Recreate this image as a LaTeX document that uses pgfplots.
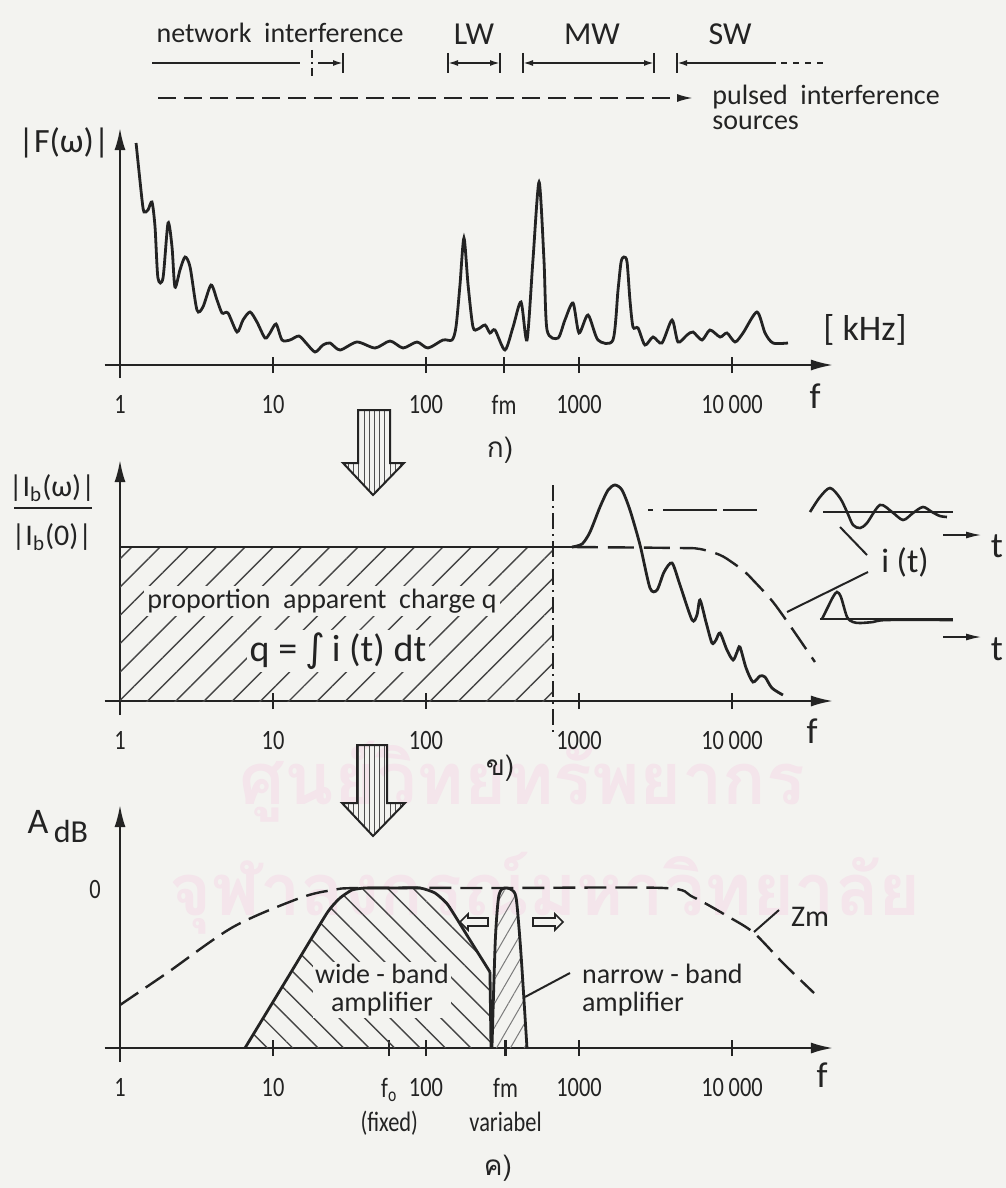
\documentclass[border=0pt]{standalone}
\usepackage{fontspec}
\usepackage{pgfplots}
\pgfplotsset{compat=1.18}
\usetikzlibrary{arrows.meta,patterns.meta,shapes.arrows}
\setmainfont{Carlito}
\newfontfamily\tickfont{Carlito}[FakeStretch=0.8]
\newfontfamily\djv{DejaVu Sans}
\newfontfamily\thaifont[Script=Thai]{Loma}
\definecolor{bgc}{RGB}{243,243,240}
\definecolor{ink}{RGB}{35,35,35}
\definecolor{wm}{RGB}{244,229,235}
\newcommand{\fs}[1]{\fontsize{#1}{#1}\selectfont}
\pgfplotsset{
  panel/.style={
    axis lines=middle,
    x=76.5pt, y=0.5pt,
    xmin=-0.1, xmax=4.66,
    enlargelimits=false,
    clip=false,
    hide obscured x ticks=false,
    axis line style={line width=1.1pt, ink},
    x axis line style={-{Latex[length=11pt,width=5.5pt]}},
    y axis line style={-{Latex[length=11pt,width=5.5pt]}},
    ytick=\empty,
    tick style={line width=1.1pt, ink},
    major tick length=8pt,
    tick align=center,
    xticklabel style={font=\tickfont\fs{14}, text=ink, inner sep=0pt, yshift=-11pt, align=center},
    anchor=origin,
  }
}
\begin{document}
\begin{tikzpicture}
\useasboundingbox (0,0) rectangle (503pt,-594pt);
\fill[bgc] (0,0) rectangle (503pt,-594pt);
% watermark
\begin{scope}[x=0.5pt,y=-0.5pt]
\node[text=wm, font=\thaifont\bfseries\fs{36}] at (522,782) {ศูนย์วิทยทรัพยากร};
\node[text=wm, font=\thaifont\bfseries\fs{36}] at (545,893) {จุฬาลงกรณ์มหาวิทยาลัย};
\end{scope}

% ---------------- top panel ----------------
\begin{axis}[panel, at={(60pt,-182.5pt)}, ymin=-13, ymax=237,
  xtick={0,1,2,2.51,3,4}, xticklabels={1,10,100,fm,1000,10\,000}]
\addplot[ink, line width=1.4pt, smooth, tension=0.45] coordinates {
(0.105,222)(0.144,165)(0.157,153)(0.183,155)(0.209,163)(0.229,138)(0.248,87)
(0.281,87)(0.314,142)(0.340,118)(0.359,78)(0.392,95)(0.425,108)(0.458,98)
(0.503,55)(0.542,58)(0.595,80)(0.634,65)(0.667,52)(0.706,52)(0.765,33)
(0.804,45)(0.850,53)(0.895,43)(0.948,27)(0.980,32)(1.020,41)(1.059,25)
(1.111,25)(1.170,29)(1.222,21)(1.275,13)(1.327,20)(1.373,22)(1.438,15)
(1.549,23)(1.667,17)(1.765,24)(1.850,17)(1.941,23)(2.013,17)(2.111,25)
(2.170,25)(2.196,38)(2.222,80)(2.248,127)(2.275,80)(2.307,38)(2.340,36)
(2.386,40)(2.418,32)(2.451,35)(2.516,15)(2.569,38)(2.621,63)(2.660,25)
(2.699,105)(2.739,183)(2.771,105)(2.791,35)(2.863,27)(2.908,45)(2.961,62)
(3.000,32)(3.059,50)(3.124,25)(3.222,25)(3.255,75)(3.275,103)(3.294,108)
(3.314,103)(3.333,65)(3.353,38)(3.386,37)(3.431,20)(3.484,28)(3.542,22)
(3.608,45)(3.647,23)(3.706,30)(3.745,33)(3.804,25)(3.856,35)(3.922,28)
(3.967,32)(4.020,23)(4.072,32)(4.163,53)(4.216,32)(4.268,22)(4.366,22)};
\end{axis}

% ---------------- middle panel ----------------
\begin{axis}[panel, at={(60pt,-350.5pt)}, ymin=-14, ymax=241,
  xtick={0,1,2,3,4}, xticklabels={1,10,100,1000,10\,000}]
\addplot[draw=none, pattern={Lines[angle=45,distance=10pt,line width=0.7pt]}, pattern color=ink!85]
  coordinates {(0,154)(2.830,154)} \closedcycle;
\addplot[ink, line width=1.4pt] coordinates {(0,154)(2.954,154)};
\addplot[ink, line width=1.4pt, smooth, tension=0.45] coordinates {
(2.954,154)(3.020,157)(3.072,169)(3.137,194)(3.190,211)(3.235,216)(3.281,211)
(3.333,191)(3.399,156)(3.464,113)(3.510,111)(3.556,129)(3.608,138)(3.660,116)
(3.739,81)(3.771,86)(3.791,101)(3.830,79)(3.869,58)(3.895,61)(3.922,68)
(3.967,51)(4.007,41)(4.033,49)(4.052,54)(4.092,33)(4.137,19)(4.183,25)
(4.216,24)(4.261,13)(4.333,6)};
\addplot[ink, line width=1.2pt, dash pattern=on 13pt off 5pt, smooth] coordinates {
(2.954,154)(3.660,153)(3.791,152)(3.922,146)(4.007,138)(4.085,129)(4.137,121)
(4.268,99)(4.399,71)(4.444,61)(4.542,39)};
\draw[ink, line width=0.9pt, dash pattern=on 2.5pt off 5pt on 27pt off 3pt on 20pt off 10pt]
  (axis cs:3.451,191) -- (axis cs:4.163,191);
\draw[ink, line width=0.9pt, dash pattern=on 8pt off 2.5pt on 1pt off 2.5pt]
  (axis cs:2.830,216) -- (axis cs:2.830,-34);
% pulse sketches i(t)
\addplot[ink, line width=0.8pt] coordinates {(4.595,189)(5.444,189)};
\addplot[ink, line width=1.3pt, smooth] coordinates {
(4.510,189)(4.575,204)(4.641,213)(4.706,203)(4.752,189)(4.791,176)(4.837,173)
(4.882,178)(4.967,196)(5.046,189)(5.118,181)(5.183,188)(5.248,194)(5.307,189)
(5.359,185)(5.405,184)};
\addplot[ink, line width=0.8pt] coordinates {(4.575,82)(5.444,82)};
\addplot[ink, line width=1.3pt, smooth] coordinates {
(4.588,82)(4.627,94)(4.660,104)(4.686,109)(4.712,104)(4.752,84)(4.791,79)
(4.837,78)(4.922,79)(5.013,81)(5.444,81)};
\end{axis}

% ---------------- bottom panel ----------------
\begin{axis}[panel, at={(60pt,-524pt)}, ymin=-14, ymax=243,
  xtick={0,1,1.76,2,2.52,3,4},
  xticklabels={1,10,{f\textsubscript{o}\\[3pt](fixed)},100,{fm\\[3pt]variabel},1000,10\,000}]
\addplot[draw=none, pattern={Lines[angle=-45,distance=9pt,line width=0.7pt]}, pattern color=ink!85]
  coordinates {(0.817,0)(1.085,67.5)(1.353,135)(1.438,150)(1.516,158)(1.601,160)
  (1.961,160)(2.059,155)(2.144,143)(2.281,109.5)(2.418,76)(2.425,0)} \closedcycle;
\addplot[draw=none, pattern={Lines[angle=60,distance=6pt,line width=0.5pt]}, pattern color=ink!60]
  coordinates {(2.431,0)(2.451,100)(2.464,135)(2.477,153)(2.497,159)(2.529,160)
  (2.562,158)(2.588,151)(2.608,120)(2.627,80)(2.660,0)} \closedcycle;
\addplot[ink, line width=1.2pt, dash pattern=on 11pt off 4.5pt, smooth] coordinates {
(0,43)(0.307,75)(0.739,121)(1.176,150)(1.392,158)(1.569,160)(2.5,160)(3.556,160)
(3.745,151)(3.980,131)(4.144,115)(4.333,85)(4.536,55)};
\addplot[ink, line width=1.4pt, smooth, tension=0.3] coordinates {
(0.817,0)(1.085,67.5)(1.353,135)(1.438,150)(1.516,158)(1.601,160)(1.78,160)
(1.961,160)(2.059,155)(2.144,143)(2.281,109.5)(2.418,76)};
\addplot[ink, line width=1.4pt] coordinates {(2.418,76)(2.425,0)};
\addplot[ink, line width=1.4pt, smooth, tension=0.5] coordinates {
(2.431,0)(2.451,100)(2.464,135)(2.477,153)(2.497,159)(2.529,160)
(2.562,158)(2.588,151)(2.608,120)(2.627,80)(2.660,0)};
\end{axis}

% ---------------- annotations (pixel grid) ----------------
\begin{scope}[x=0.5pt,y=-0.5pt, text=ink]
% top band row
\node[font=\fs{14}] at (280,33) {network\ \ interference};
\draw[ink, line width=0.9pt] (152,63) -- (300,63);
\draw[ink, line width=0.9pt, dash pattern=on 4pt off 2pt on 1pt off 2pt] (312,50) -- (312,78);
\draw[ink, line width=0.9pt, -{Latex[length=5pt,width=3pt]}] (318,63) -- (343,63);
\draw[ink, line width=1pt] (343,53) -- (343,73);
\draw[ink, line width=1pt] (448,53)--(448,73) (500,53)--(500,73);
\draw[ink, line width=0.9pt, {Latex[length=5pt,width=3pt]}-{Latex[length=5pt,width=3pt]}] (448,63)--(500,63);
\draw[ink, line width=1pt] (523,53)--(523,73) (654,53)--(654,73);
\draw[ink, line width=0.9pt, {Latex[length=5pt,width=3pt]}-{Latex[length=5pt,width=3pt]}] (523,63)--(654,63);
\draw[ink, line width=1pt] (677,53)--(677,73);
\draw[ink, line width=0.9pt, {Latex[length=5pt,width=3pt]}-] (677,63)--(776,63);
\draw[ink, line width=0.9pt, dash pattern=on 3pt off 3pt] (781,63)--(824,63);
\node[font=\fs{16}] at (474,34) {LW};
\node[font=\fs{16}] at (592,34) {MW};
\node[font=\fs{16}] at (730,34) {SW};
\draw[ink, line width=1pt, dash pattern=on 9pt off 4pt, -{Latex[length=8pt,width=4pt]}] (158,98) -- (693,98);
\node[anchor=west, align=left, font=\fontsize{14}{12.5}\selectfont, inner sep=0pt] at (712,107) {pulsed\ \ interference\\sources};
% top panel labels
\node[font=\fs{17}] at (64,143) {|F(ω)|};
\node[font=\fs{18}] at (865,330) {[ kHz]};
\node[font=\fs{18}] at (815,396) {f};
\node[font=\thaifont\fs{14}] at (500,450) {ก)};
% big arrows
\draw[ink, line width=1pt, pattern={Lines[angle=90,distance=2.6pt,line width=0.5pt]}, pattern color=ink!80]
  (358,410)--(390,410)--(390,463)--(404,463)--(373,495)--(343,463)--(358,463)--cycle;
\draw[ink, line width=1pt, pattern={Lines[angle=90,distance=2.6pt,line width=0.5pt]}, pattern color=ink!80]
  (357,745)--(387,745)--(387,803)--(405,803)--(373,836)--(342,803)--(357,803)--cycle;
% middle panel labels
\node[font=\fs{15}] at (52,488) {|I\textsubscript{b}(ω)|};
\draw[ink, line width=1pt] (14,508) -- (92,508);
\node[font=\fs{15}] at (52,537) {|I\textsubscript{b}(0)|};
\node[font=\fs{14}, fill=bgc, inner sep=1.5pt] at (322,601) {proportion\ \ apparent\ \ charge q};
\node[font=\fs{19}, fill=bgc, inner sep=1.5pt] at (338,651) {q = {\djv ∫}\,i (t) dt};
\node[font=\fs{18}] at (812,731) {f};
\node[font=\thaifont\fs{14}] at (500,768) {ข)};
\draw[ink, line width=1pt] (840,527) -- (867,555);
\draw[ink, line width=1pt] (787,612) -- (868,572);
\node[font=\fs{17}] at (905,562) {i (t)};
\draw[ink, line width=1pt, -{Latex[length=8pt,width=3.5pt]}] (943,535) -- (982,535);
\node[font=\fs{18}] at (997,546) {t};
\draw[ink, line width=1pt, -{Latex[length=8pt,width=3.5pt]}] (943,637) -- (982,637);
\node[font=\fs{18}] at (997,649) {t};
% bottom panel labels
\node[font=\fs{18}] at (38,822) {A};
\node[font=\fs{16}] at (71,831) {dB};
\node[font=\tickfont\fs{14}] at (95,889) {0};
\node[font=\fs{14}, fill=bgc, inner sep=1pt, align=center] at (382,990) {wide - band\\amplifier};
\node[font=\fs{14}, anchor=west, align=left] at (575,990) {narrow - band\\amplifier};
\draw[ink, line width=1pt] (525,997) -- (570,973);
\node[single arrow, draw=ink, fill=bgc, line width=0.8pt, minimum height=14pt, minimum width=8pt,
  single arrow head extend=2pt, inner sep=1.6pt, shape border rotate=180] at (476,922) {};
\node[single arrow, draw=ink, fill=bgc, line width=0.8pt, minimum height=15pt, minimum width=8pt,
  single arrow head extend=2pt, inner sep=1.6pt] at (546,922) {};
\draw[ink, line width=1pt] (754,932) -- (779,910);
\node[font=\fs{15}] at (810,917) {Zm};
\node[font=\fs{18}] at (822,1075) {f};
\node[font=\thaifont\fs{14}] at (498,1168) {ค)};
\end{scope}
\end{tikzpicture}
\end{document}
